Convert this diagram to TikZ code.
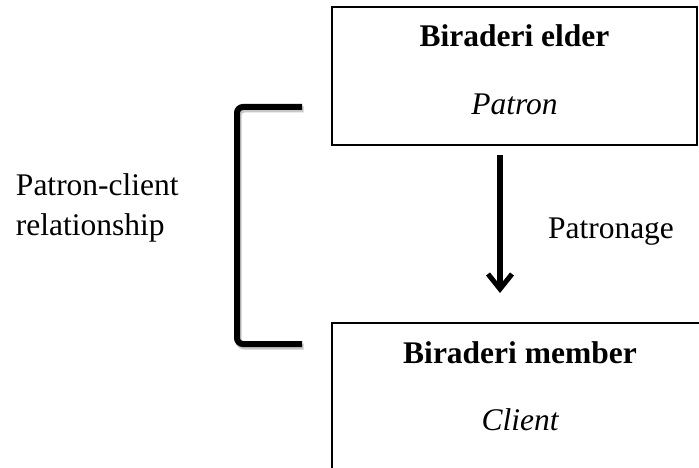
\documentclass[tikz,border=0pt]{standalone}
\usepackage{fontspec}
\setmainfont{Liberation Serif}
\usetikzlibrary{arrows.meta,positioning}
\newcommand{\diagfont}{\fontsize{31.5}{40}\selectfont}

\begin{document}
\begin{tikzpicture}[x=1pt,y=-1pt,% one unit = one pixel of the layout, y runs downwards
    every node/.style={
        inner sep=0pt,  % text sits exactly where it is put
        outer sep=0pt
    },
    box/.style={rectangle,draw=black,line width=1.6pt,fill=white},
    nametext/.style={font=\diagfont\bfseries},
    roletext/.style={font=\diagfont\itshape},
    plaintext/.style={font=\diagfont,align=left},
    patronarrow/.style={line width=5.5pt,-{Straight Barb[length=15pt,width=24pt,line width=5pt]}},
    bracket/.style={line width=6pt,rounded corners=6pt}
  ]
  \path[use as bounding box,clip] (0,0) rectangle (699,468);

  % the two boxes
  \node[box,minimum width=365pt,minimum height=138pt] (elder) at (514.5,76) {};
  \node[box,minimum width=376pt,minimum height=150pt,below=178pt of elder.south west,anchor=north west] (member) {};

  \node[nametext,anchor=base] (elderName) at ([yshift=-40pt]elder.north) {Biraderi elder};
  \node[roletext,anchor=base] (elderRole) at ([yshift=-68pt]elderName.base) {Patron};
  \node[nametext,anchor=base] (memberName) at ([yshift=-40pt]member.north) {Biraderi member};
  \node[roletext,anchor=base] (memberRole) at ([yshift=-67pt]memberName.base) {Client};

  % patronage arrow
  \coordinate (arrowX) at (500,0);
  \draw[patronarrow,shorten <=10pt,shorten >=30pt] (elder.south -| arrowX) -- (member.north -| arrowX);
  \node[plaintext,anchor=base west] (patronage) at (548,238) {Patronage};

  % bracket with its faint shadow
  \draw[bracket,black!22,xshift=1.5pt,yshift=-2.5pt] (302,107) -- (237,107) -- (237,344) -- (302,344);
  \draw[bracket] (302,107) -- (237,107) -- (237,344) -- (302,344);
  \node[plaintext,anchor=west] (relation) at (16,207.7) {Patron-client\\relationship};
\end{tikzpicture}
\end{document}
